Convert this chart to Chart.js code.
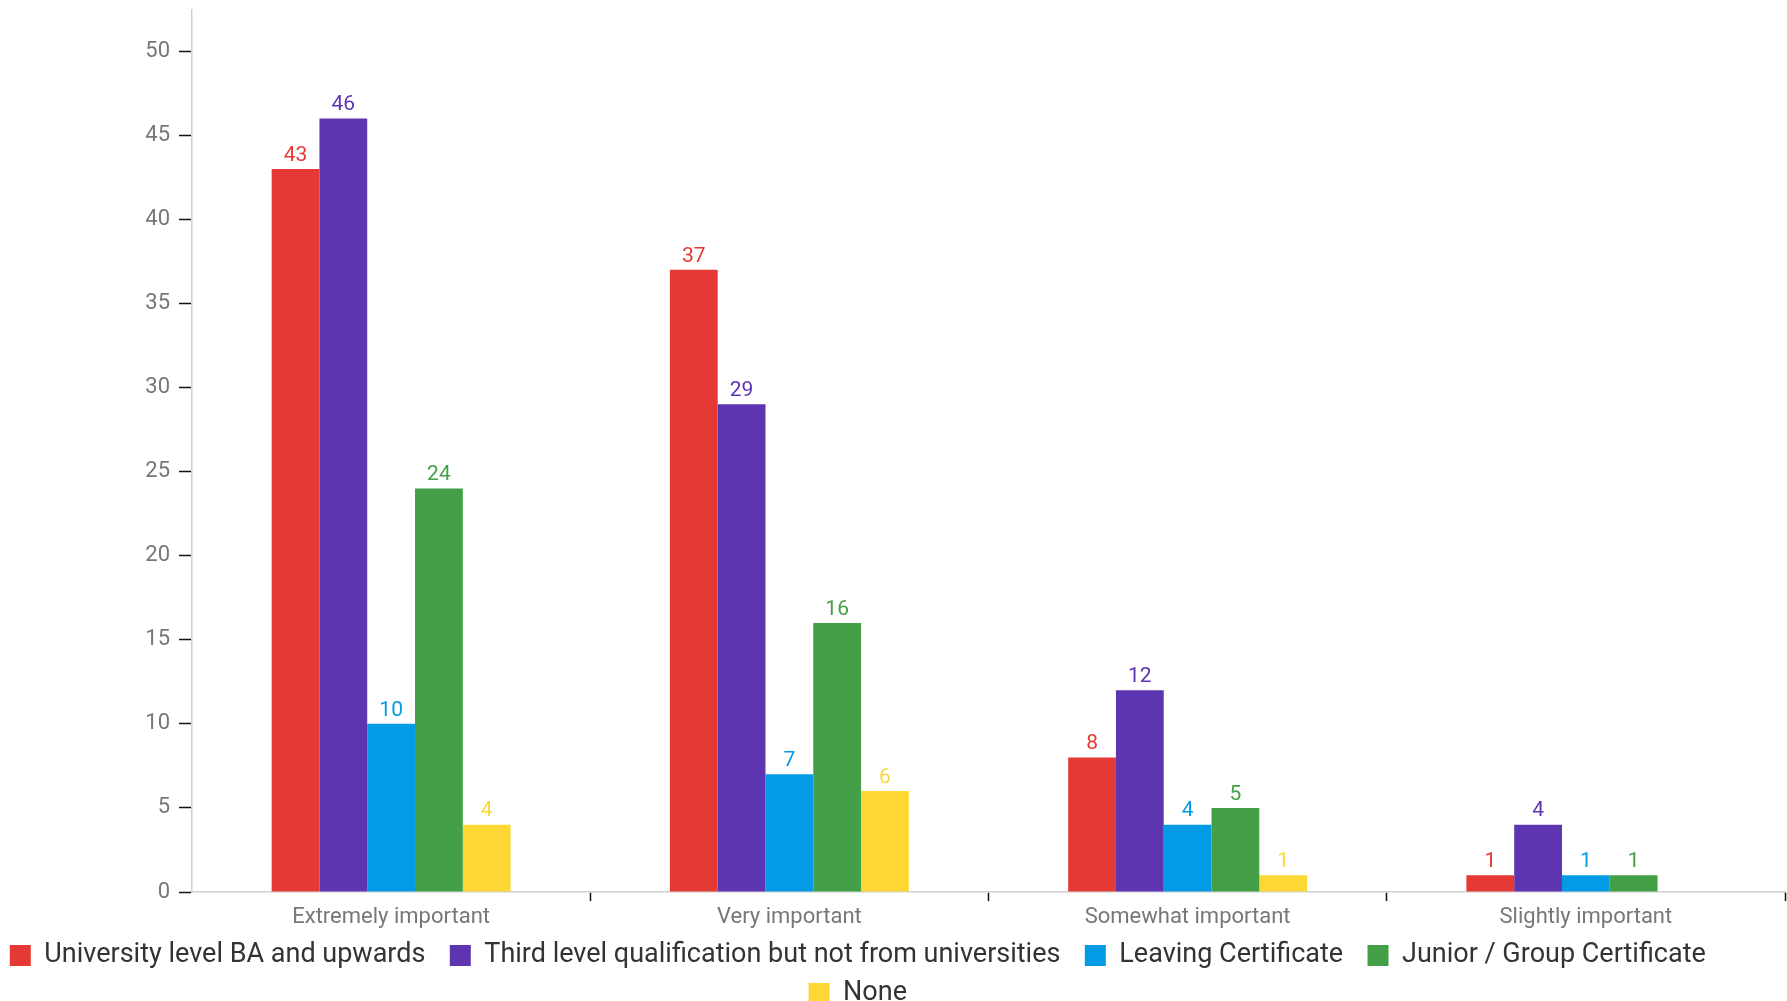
<!DOCTYPE html>
<html>
<head>
<meta charset="utf-8">
<script src="https://cdn.jsdelivr.net/npm/chart.js@4"></script>
<style>
  html, body { margin: 0; padding: 0; background: #fff; }
  #wrap { width: 1787px; height: 1001px; }
</style>
</head>
<body>
<div id="wrap"><canvas id="chart"></canvas></div>
<script>
const categories = ['Extremely important', 'Very important', 'Somewhat important', 'Slightly important'];
const university = [43, 37, 8, 1];
const thirdLevel = [46, 29, 12, 4];
const leavingCert = [10, 7, 4, 1];
const juniorCert = [24, 16, 5, 1];
const none = [4, 6, 1, 0];
const yTicks = [0, 5, 10, 15, 20, 25, 30, 35, 40, 45, 50];

const fontFamily = 'Roboto, "Open Sans", sans-serif';

// value labels over each bar, same colour as the bar
const barLabels = {
    id: 'barLabels',
    afterDatasetsDraw(chart) {
        const ctx = chart.ctx;
        ctx.save();
        ctx.font = '21px ' + fontFamily;
        ctx.textAlign = 'center';
        ctx.textBaseline = 'bottom';
        chart.data.datasets.forEach((ds, i) => {
            const meta = chart.getDatasetMeta(i);
            meta.data.forEach((bar, j) => {
                const v = ds.data[j];
                if (!v) return;
                ctx.fillStyle = ds.backgroundColor;
                ctx.fillText(String(v), bar.x, bar.y - 3);
            });
        });
        ctx.restore();
    }
};

// nudge the legend a little lower and left, and let the x labels draw below the squeezed axis box
const layoutNudge = {
    id: 'layoutNudge',
    afterLayout(chart) {
        const lg = chart.legend;
        if (lg) {
            lg.top += 16;
            lg.bottom += 16;
            lg.left -= 28;
            lg.right -= 28;
        }
        chart.scales.x.bottom += 30;
    }
};

const data = {
    labels: categories,
    datasets: [
        { label: 'University level BA and upwards', data: university, backgroundColor: '#e53935' },
        { label: 'Third level qualification but not from universities', data: thirdLevel, backgroundColor: '#5e35b1' },
        { label: 'Leaving Certificate', data: leavingCert, backgroundColor: '#039be5' },
        { label: 'Junior / Group Certificate', data: juniorCert, backgroundColor: '#43a047' },
        { label: 'None', data: none, backgroundColor: '#fdd835' }
    ]
};

const config = {
    type: 'bar',
    data: data,
    options: {
        responsive: true,
        maintainAspectRatio: false,
        animation: false,
        datasets: {
            bar: {
                categoryPercentage: 0.6,
                barPercentage: 1.0
            }
        },
        layout: {
            padding: { left: 0, right: 2, top: 10, bottom: 0 }
        },
        scales: {
            x: {
                afterFit: (scale) => { scale.height = 23; },
                grid: {
                    offset: true,
                    drawOnChartArea: false,
                    drawTicks: true,
                    tickLength: 9,
                    tickWidth: 1.5,
                    tickColor: (c) => (c.index === 0 || c.index === categories.length) ? 'rgba(0,0,0,0)' : '#111'
                },
                border: { color: '#d0d0d0', width: 1.5 },
                ticks: {
                    color: '#777',
                    font: { family: fontFamily, size: 22 },
                    padding: 3
                }
            },
            y: {
                min: 0,
                max: 52.45,
                bounds: 'data',
                afterBuildTicks: (scale) => {
                    scale.ticks = yTicks.map(v => ({ value: v }));
                },
                afterFit: (scale) => {
                    scale.width = 192;
                    scale.paddingTop = 0;
                    scale.paddingBottom = 0;
                },
                grid: {
                    drawOnChartArea: false,
                    drawTicks: true,
                    tickLength: 13,
                    tickWidth: 1.5,
                    tickColor: '#111'
                },
                border: { color: '#d0d0d0', width: 1.5 },
                ticks: {
                    color: '#777',
                    font: { family: fontFamily, size: 22 },
                    padding: 9
                }
            }
        },
        plugins: {
            legend: {
                position: 'bottom',
                labels: {
                    boxWidth: 21,
                    boxHeight: 21,
                    padding: 11,
                    color: '#333',
                    font: { family: fontFamily, size: 27 },
                    generateLabels: (chart) => {
                        const items = Chart.defaults.plugins.legend.labels.generateLabels(chart);
                        // a little extra room after each entry
                        items.forEach(it => { it.text = it.text + '  '; });
                        return items;
                    }
                }
            },
            tooltip: { enabled: false }
        }
    },
    plugins: [barLabels, layoutNudge]
};

new Chart(document.getElementById('chart'), config);
</script>
</body>
</html>
